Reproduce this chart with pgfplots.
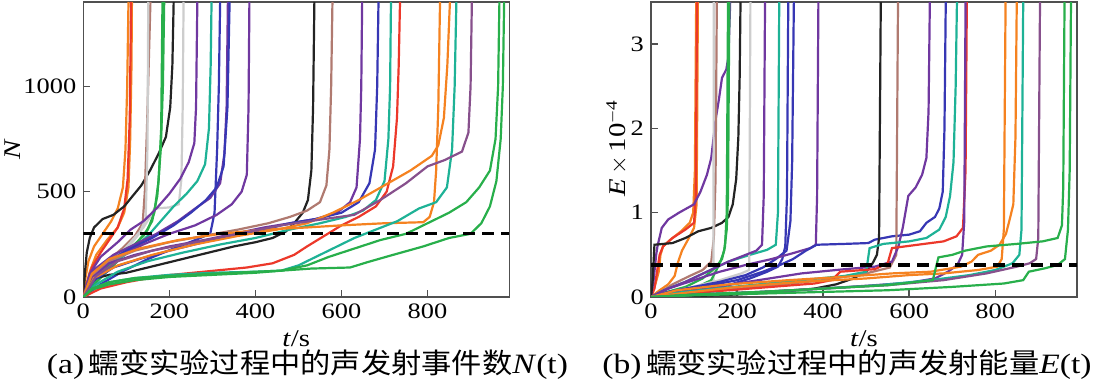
\documentclass[border=0pt]{standalone}
\usepackage{fontspec}
\setmainfont{Liberation Serif}[FakeStretch=1.2]
\newfontfamily\cjk{Noto Sans CJK SC}[FakeStretch=1.08]
\usepackage{pgfplots}
\pgfplotsset{compat=1.18}
\definecolor{cor}{RGB}{245,130,32}
\definecolor{cre}{RGB}{236,56,42}
\definecolor{cbk}{RGB}{35,35,35}
\definecolor{cbr}{RGB}{176,122,112}
\definecolor{cgy}{RGB}{205,205,205}
\definecolor{cgn}{RGB}{40,175,75}
\definecolor{ctl}{RGB}{30,178,150}
\definecolor{cpu}{RGB}{112,56,160}
\definecolor{cbl}{RGB}{55,55,180}
\definecolor{cpl}{RGB}{135,80,140}
\definecolor{axgray}{RGB}{80,80,80}
\pgfplotsset{
  panel/.style={
    width=213pt, height=147.5pt, scale only axis,
    xmin=0, xmax=990, ymin=0,
    tick align=inside, tick pos=left,
    axis line style={draw=axgray, line width=0.7pt},
    major tick length=3.5pt,
    tick style={draw=axgray, line width=0.7pt},
    tick label style={font=\fontsize{11}{12}\selectfont},
    label style={font=\fontsize{12}{13}\selectfont},
    /pgf/number format/assume math mode=true,
    /pgf/number format/1000 sep={},
    xtick={0,200,400,600,800},
    every axis plot/.append style={line width=1.1pt, mark=none},
    xlabel={\textit{t}/s},
    xlabel style={at={(axis description cs:0.5,-0.14)}, anchor=center},
  }
}
\begin{document}
\begin{tikzpicture}
\path[use as bounding box] (0,0) rectangle (553.5pt,192.5pt);
% ---------------- panel (a) ----------------
\begin{axis}[panel, at={(41.65pt,44pt)}, anchor=south west,
  ymax=1400, ytick={0,500,1000},
  ylabel={\textit{N}},
  ylabel style={at={(axis description cs:-0.165,0.5)}, anchor=center}]
\addplot[cor] coordinates {(0,0)(5,90)(12,170)(25,240)(45,300)(65,360)(80,420)(92,520)(98,700)(102,1000)(105,1400)};
\addplot[cor] coordinates {(0,0)(15,120)(30,200)(55,270)(80,330)(95,400)(105,520)(109,750)(112,1100)(113,1400)};
\addplot[cre] coordinates {(0,0)(8,60)(20,140)(40,210)(60,270)(80,330)(95,420)(103,560)(108,850)(111,1400)};
\addplot[cbk] coordinates {(0,0)(4,120)(8,210)(15,280)(25,330)(45,370)(70,390)(95,430)(115,480)(135,530)(155,600)(175,680)(192,760)(202,900)(207,1100)(210,1400)};
\addplot[cbr] coordinates {(0,0)(20,90)(50,160)(90,230)(120,290)(138,350)(143,500)(148,800)(152,1100)(156,1400)};
\addplot[cgy] coordinates {(0,0)(30,80)(70,170)(110,260)(140,330)(155,380)(165,420)(200,425)(222,440)(228,560)(231,900)(233,1400)};
\addplot[cgy] coordinates {(0,0)(40,100)(90,200)(130,300)(145,370)(149,700)(151,1400)};
\addplot[cgn] coordinates {(0,0)(20,60)(50,130)(90,200)(125,260)(150,320)(165,400)(175,550)(181,800)(184,1400)};
\addplot[cgn] coordinates {(0,0)(30,70)(70,150)(110,230)(140,290)(160,360)(172,480)(180,700)(185,1000)(188,1400)};
\addplot[cpu] coordinates {(0,0)(15,110)(40,190)(80,260)(110,320)(140,360)(170,420)(200,490)(225,560)(245,640)(258,730)(262,900)(265,1400)};
\addplot[ctl] coordinates {(0,0)(30,90)(70,160)(110,220)(150,290)(180,360)(210,430)(240,490)(265,550)(283,630)(292,800)(296,1100)(298,1400)};
\addplot[cbl] coordinates {(0,0)(40,60)(90,120)(150,180)(210,230)(260,270)(295,300)(305,400)(311,700)(315,1000)(318,1400)};
\addplot[cpu] coordinates {(0,0)(25,130)(70,200)(120,250)(170,300)(220,360)(260,420)(295,470)(318,540)(328,680)(333,900)(336,1400)};
\addplot[cbl] coordinates {(0,0)(40,150)(100,220)(160,280)(210,340)(250,400)(285,460)(310,520)(326,620)(335,900)(340,1400)};
\addplot[cpu] coordinates {(0,0)(30,120)(80,190)(140,250)(200,300)(260,340)(310,390)(345,440)(368,500)(380,580)(384,900)(386,1400)};
\addplot[cbk] coordinates {(0,0)(10,50)(30,90)(60,105)(100,115)(150,140)(200,165)(250,190)(300,215)(350,240)(400,260)(440,280)(470,310)(490,350)(510,400)(522,460)(530,600)(534,900)(537,1400)};
\addplot[cbr] coordinates {(0,0)(20,100)(60,170)(120,220)(200,260)(280,290)(360,320)(430,350)(480,380)(520,410)(550,450)(565,530)(572,700)(576,1000)(579,1400)};
\addplot[cpu] coordinates {(0,0)(20,90)(60,160)(120,200)(200,240)(280,270)(350,300)(420,330)(480,350)(540,370)(590,400)(620,450)(635,520)(643,750)(646,1000)(648,1400)};
\addplot[cbl] coordinates {(0,0)(25,80)(70,140)(130,180)(200,220)(280,260)(350,290)(420,320)(480,350)(540,370)(600,400)(640,450)(665,540)(678,700)(683,1000)(686,1400)};
\addplot[ctl] coordinates {(0,0)(30,60)(80,120)(150,170)(230,210)(320,250)(400,280)(480,320)(550,350)(610,380)(650,410)(680,460)(700,550)(709,750)(713,1000)(715,1400)};
\addplot[cre] coordinates {(0,0)(40,40)(100,70)(180,100)(280,120)(380,140)(440,160)(490,200)(520,240)(560,290)(600,340)(640,380)(680,430)(705,500)(720,620)(729,850)(733,1100)(736,1400)};
\addplot[cor] coordinates {(0,0)(20,110)(60,180)(130,230)(220,270)(320,300)(420,320)(520,330)(600,340)(700,350)(790,355)(805,380)(815,450)(820,600)(825,900)(829,1400)};
\addplot[cor] coordinates {(0,0)(25,90)(80,150)(160,200)(260,250)(360,290)(450,320)(520,350)(580,400)(640,460)(700,530)(760,600)(810,670)(825,720)(838,850)(846,1100)(852,1400)};
\addplot[ctl] coordinates {(0,0)(20,40)(60,70)(120,90)(200,105)(300,115)(400,120)(460,125)(500,150)(540,190)(580,230)(630,280)(680,320)(730,360)(780,420)(820,450)(845,520)(857,700)(863,1000)(867,1400)};
\addplot[cpl] coordinates {(0,0)(30,100)(80,170)(160,220)(260,260)(360,300)(460,340)(560,370)(630,390)(690,460)(750,540)(800,620)(840,650)(880,690)(895,780)(900,1000)(903,1400)};
\addplot[cgn] coordinates {(0,0)(20,40)(60,70)(120,90)(200,100)(300,110)(400,120)(460,125)(520,150)(570,190)(630,230)(690,270)(750,300)(800,350)(850,400)(890,450)(920,520)(945,600)(958,750)(964,1000)(967,1400)};
\addplot[cgn] coordinates {(0,0)(20,35)(60,60)(120,80)(200,95)(300,105)(400,115)(460,125)(530,135)(620,140)(660,165)(720,200)(790,240)(850,280)(900,300)(925,350)(945,430)(960,550)(970,750)(975,1000)(978,1400)};
\addplot[black, line width=1.6pt, dash pattern=on 6pt off 3.5pt] coordinates {(0,300)(990,300)};
\end{axis}
% ---------------- panel (b) ----------------
\begin{axis}[panel, at={(325.5pt,44pt)}, anchor=south west,
  ymax=3.5, ytick={0,1,2,3},
  ylabel={\textit{E}\,$\times$\,10\textsuperscript{$-$4}},
  ylabel style={at={(axis description cs:-0.08,0.505)}, anchor=center}]
\addplot[cor] coordinates {(0,0)(10,0.15)(18,0.3)(22,0.5)(28,0.6)(45,0.68)(70,0.78)(90,0.88)(98,1.0)(102,1.5)(105,3.5)};
\addplot[cor] coordinates {(0,0)(20,0.08)(40,0.15)(55,0.25)(62,0.4)(72,0.55)(88,0.7)(100,0.82)(106,1.1)(109,3.5)};
\addplot[cre] coordinates {(0,0)(8,0.1)(14,0.3)(20,0.5)(28,0.6)(50,0.7)(80,0.8)(100,0.88)(104,1.2)(107,3.5)};
\addplot[cpu] coordinates {(0,0)(6,0.2)(12,0.5)(15,0.6)(25,0.82)(40,0.92)(65,1.0)(100,1.1)(115,1.25)(130,1.45)(140,1.65)(150,2.1)(158,2.35)(165,2.6)(175,2.7)(180,2.85)(184,3.5)};
\addplot[cbk] coordinates {(0,0)(4,0.2)(8,0.62)(50,0.64)(80,0.7)(110,0.78)(140,0.82)(165,0.88)(180,0.95)(190,1.1)(198,1.4)(203,1.9)(206,2.6)(208,3.5)};
\addplot[cbr] coordinates {(0,0)(20,0.05)(50,0.15)(90,0.25)(120,0.32)(140,0.42)(146,0.7)(150,1.4)(153,3.5)};
\addplot[cgy] coordinates {(0,0)(60,0.05)(120,0.12)(145,0.2)(146,3.5)};
\addplot[cgn] coordinates {(0,0)(30,0.05)(80,0.12)(120,0.22)(150,0.35)(165,0.45)(172,0.6)(176,1.0)(179,3.5)};
\addplot[cgn] coordinates {(0,0)(40,0.04)(100,0.1)(140,0.2)(160,0.4)(170,0.55)(176,0.8)(179,1.2)(182,3.5)};
\addplot[ctl] coordinates {(0,0)(30,0.08)(80,0.18)(130,0.3)(180,0.42)(230,0.5)(270,0.56)(290,0.62)(295,1.0)(298,3.5)};
\addplot[cgy] coordinates {(0,0)(80,0.1)(160,0.2)(210,0.28)(228,0.32)(231,3.5)};
\addplot[cpu] coordinates {(0,0)(30,0.08)(80,0.18)(130,0.3)(180,0.42)(220,0.5)(245,0.55)(258,0.62)(262,1.2)(265,3.5)};
\addplot[cbl] coordinates {(0,0)(50,0.04)(120,0.08)(180,0.14)(230,0.22)(270,0.3)(295,0.36)(305,0.45)(312,0.6)(316,1.2)(319,3.5)};
\addplot[cbl] coordinates {(0,0)(40,0.06)(100,0.12)(160,0.18)(220,0.26)(260,0.35)(290,0.45)(315,0.55)(324,0.9)(328,1.6)(332,3.5)};
\addplot[cpu] coordinates {(0,0)(40,0.1)(100,0.2)(160,0.3)(220,0.38)(280,0.45)(330,0.52)(370,0.58)(383,0.62)(386,1.2)(389,3.5)};
\addplot[cbl] coordinates {(0,0)(50,0.06)(120,0.12)(200,0.2)(260,0.3)(300,0.38)(330,0.45)(360,0.55)(385,0.62)(450,0.63)(505,0.64)(520,0.68)(560,0.72)(600,0.74)(625,0.78)(640,0.88)(660,0.95)(670,1.05)(678,1.25)(682,2.0)(685,3.5)};
\addplot[cbk] coordinates {(0,0)(100,0.01)(200,0.03)(300,0.06)(380,0.1)(430,0.15)(470,0.22)(500,0.3)(515,0.4)(525,0.5)(530,0.7)(534,3.5)};
\addplot[cbr] coordinates {(0,0)(100,0.05)(250,0.12)(400,0.2)(500,0.28)(555,0.35)(570,0.5)(574,3.5)};
\addplot[cpu] coordinates {(0,0)(60,0.06)(150,0.12)(250,0.2)(350,0.28)(450,0.33)(520,0.36)(560,0.42)(575,0.6)(585,0.82)(598,1.2)(615,1.3)(630,1.45)(640,1.65)(645,2.2)(648,3.5)};
\addplot[ctl] coordinates {(0,0)(60,0.05)(150,0.1)(250,0.15)(350,0.2)(450,0.25)(500,0.3)(508,0.58)(540,0.63)(600,0.66)(640,0.7)(670,0.8)(685,0.95)(695,1.2)(703,1.6)(708,2.5)(711,3.5)};
\addplot[cre] coordinates {(0,0)(80,0.04)(180,0.08)(280,0.12)(380,0.16)(420,0.2)(440,0.3)(520,0.33)(550,0.4)(560,0.58)(620,0.62)(680,0.66)(710,0.72)(725,0.82)(731,1.5)(734,3.5)};
\addplot[cpu] coordinates {(0,0)(100,0.03)(250,0.06)(400,0.1)(520,0.14)(600,0.17)(660,0.22)(690,0.3)(712,0.38)(723,0.5)(728,0.9)(731,3.5)};
\addplot[cor] coordinates {(0,0)(80,0.05)(200,0.12)(350,0.18)(500,0.22)(600,0.26)(680,0.28)(760,0.32)(805,0.36)(815,0.45)(820,0.8)(824,3.5)};
\addplot[cor] coordinates {(0,0)(60,0.08)(180,0.15)(320,0.2)(450,0.24)(560,0.28)(650,0.3)(720,0.36)(745,0.42)(760,0.5)(790,0.55)(810,0.62)(825,0.75)(835,0.95)(842,1.1)(847,1.9)(850,3.5)};
\addplot[ctl] coordinates {(0,0)(120,0.03)(260,0.06)(400,0.1)(530,0.14)(650,0.2)(740,0.26)(800,0.32)(840,0.4)(856,0.5)(861,0.8)(865,3.5)};
\addplot[cpl] coordinates {(0,0)(120,0.03)(260,0.06)(400,0.1)(550,0.14)(680,0.2)(780,0.28)(850,0.36)(880,0.4)(895,0.45)(900,0.7)(904,3.5)};
\addplot[cgn] coordinates {(0,0)(100,0.03)(250,0.06)(400,0.1)(550,0.14)(655,0.2)(662,0.35)(668,0.47)(700,0.5)(730,0.55)(780,0.6)(850,0.63)(910,0.66)(945,0.7)(955,0.85)(958,1.3)(961,3.5)};
\addplot[cgn] coordinates {(0,0)(100,0.02)(250,0.04)(400,0.06)(550,0.08)(700,0.12)(820,0.16)(865,0.2)(878,0.3)(915,0.34)(945,0.38)(962,0.45)(969,0.8)(973,1.5)(976,3.5)};
\addplot[black, line width=1.6pt, dash pattern=on 6pt off 3.5pt] coordinates {(0,0.38)(990,0.38)};
\end{axis}
% ---------------- captions ----------------
\node[font=\fontsize{14}{16}\selectfont, anchor=center, inner sep=0pt] at (153.75pt,10pt)
  {(a)\,{\cjk 蠕变实验过程中的声发射事件数}\textit{N}(t)};
\node[font=\fontsize{14}{16}\selectfont, anchor=center, inner sep=0pt] at (423.5pt,10pt)
  {(b)\,{\cjk 蠕变实验过程中的声发射能量}\textit{E}(t)};
\end{tikzpicture}
\end{document}
